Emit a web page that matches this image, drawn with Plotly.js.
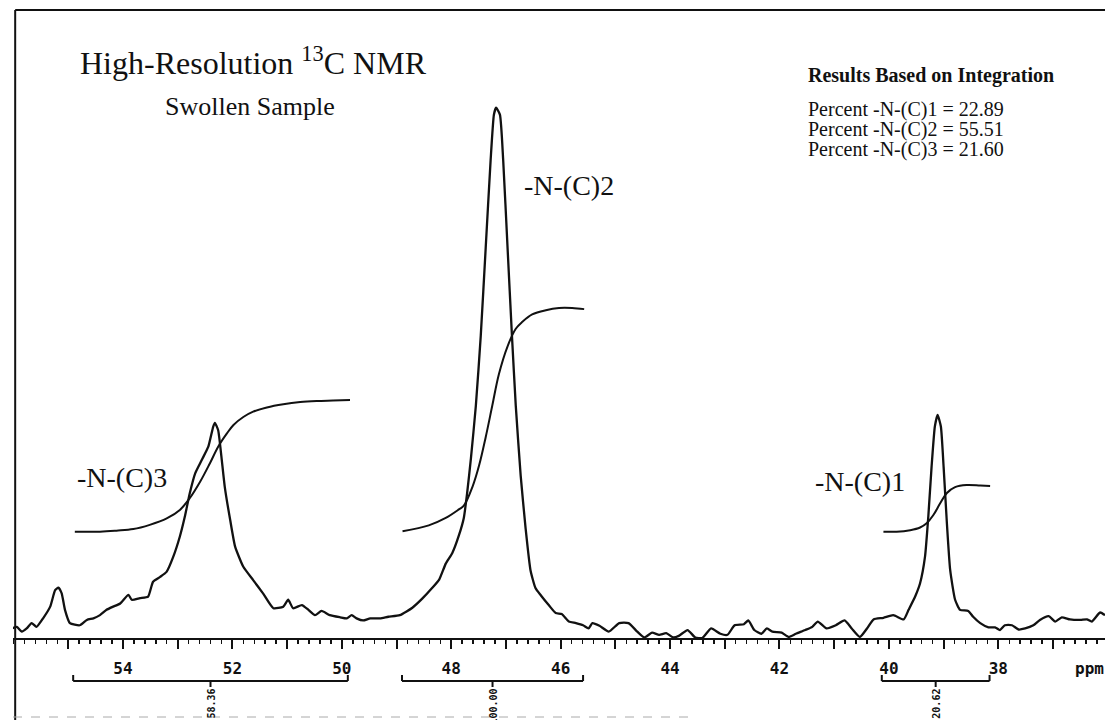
<!DOCTYPE html>
<html><head><meta charset="utf-8">
<script src="https://cdn.plot.ly/plotly-3.0.1.min.js"></script>
<style>html,body{margin:0;padding:0;background:#fff;}#chart{width:1105px;height:720px;}</style>
</head><body><div id="chart"></div>
<script>
// Spectrum: chemical shift (ppm) and intensity (a.u., main peak = 100)
const ppm = [56.03,55.94,55.85,55.76,55.67,55.58,55.46,55.33,55.24,55.18,55.12,55.06,54.97,54.79,54.66,54.54,54.42,54.30,54.18,54.05,53.90,53.84,53.69,53.54,53.45,53.32,53.20,53.08,52.96,52.87,52.78,52.68,52.56,52.44,52.35,52.32,52.26,52.20,52.14,52.04,51.95,51.80,51.62,51.44,51.25,51.07,50.98,50.89,50.73,50.61,50.49,50.37,50.22,50.03,49.91,49.82,49.73,49.61,49.48,49.30,49.15,48.94,
48.71,48.53,48.35,48.22,48.10,47.98,47.86,47.77,47.71,47.64,47.55,47.46,47.37,47.28,47.22,47.18,47.11,47.05,46.97,46.89,46.82,46.73,46.64,46.55,46.46,46.36,46.21,46.09,
45.98,45.85,45.72,45.59,45.49,45.42,45.29,45.12,44.93,44.76,44.60,44.47,44.33,44.20,44.07,43.94,43.84,43.68,43.54,43.41,43.25,43.08,42.95,42.82,42.65,42.57,42.46,42.33,42.23,42.13,41.96,41.83,41.70,41.53,41.40,41.30,41.14,40.97,40.81,
40.68,40.53,40.40,40.28,40.10,39.92,39.73,39.64,39.52,39.43,39.34,39.28,39.22,39.16,39.11,39.05,39.00,38.94,38.88,38.79,38.70,38.55,38.46,38.33,38.18,38.06,37.97,37.88,37.75,37.63,37.51,37.36,37.24,37.08,36.96,36.84,36.69,36.50,36.38,36.29,36.14,36.05];
const intensity = [1.8,2.1,1.2,1.8,2.8,2.1,3.7,5.9,9.0,9.5,8.4,5.3,2.8,2.4,3.4,3.7,4.3,5.3,5.9,6.5,8.1,7.2,7.5,7.8,10.6,11.5,12.5,15.3,19.1,22.8,27.2,31.0,33.5,36.0,39.8,40.5,39.1,34.1,28.5,22.2,17.2,13.4,10.9,8.4,5.6,5.9,7.2,5.6,6.2,5.3,4.3,5.1,4.3,3.9,3.7,4.3,3.7,3.3,3.7,3.7,4.0,4.3,
5.7,7.4,9.4,11.0,14.0,16.0,19.3,22.6,27.2,33.8,43.7,56.9,73.4,89.9,98.5,99.8,98.5,89.9,73.4,56.9,43.7,30.5,20.6,12.7,9.4,8.0,6.1,4.7,
4.5,3.1,2.8,2.4,1.8,2.8,2.3,1.2,2.8,2.8,1.2,0.1,1.0,0.6,0.9,0.1,0.4,1.5,0.1,0.0,1.8,0.8,0.6,2.4,2.6,3.3,1.5,0.8,1.8,1.2,1.0,0.2,0.8,1.5,2.1,3.1,1.8,2.4,3.3,
1.8,0.2,1.8,3.5,3.8,4.3,3.5,5.3,7.8,10.3,15.3,22.8,32.2,39.8,42.0,39.8,32.2,21.6,12.8,7.2,5.3,5.1,4.0,2.8,2.0,2.0,1.5,2.4,2.4,1.6,1.8,2.4,3.4,4.1,3.1,3.9,3.5,3.4,3.5,3.1,4.8,4.3];

// Integral curves (same vertical scale, drawn offset above baseline)
const int3Ppm = [54.88,54.42,54.12,53.81,53.51,53.20,52.96,52.78,52.59,52.41,52.26,52.10,51.98,51.80,51.62,51.37,51.07,50.76,50.46,50.16,49.85];
const int3Val = [20.0,20.0,20.2,20.5,21.3,22.5,24.1,26.3,29.4,32.9,36.0,38.5,40.1,41.6,42.6,43.4,44.0,44.4,44.6,44.7,44.8];
const int2Ppm = [48.89,48.41,48.10,47.86,47.77,47.61,47.49,47.37,47.25,47.13,46.97,46.82,46.70,46.52,46.27,46.03,45.79,45.57];
const int2Val = [20.1,21.2,22.6,24.2,24.9,28.5,32.5,37.8,43.7,49.6,54.9,58.2,59.5,60.9,61.7,62.1,62.1,61.9];
const int1Ppm = [40.10,39.86,39.61,39.43,39.31,39.19,39.06,38.94,38.79,38.58,38.33,38.15];
const int1Val = [20.0,20.0,20.3,20.8,21.6,23.1,25.4,27.3,28.4,28.8,28.7,28.6];

// Axis tick labels
const tickPpm = [54,52,50,48,46,44,42,40,38];
const tickLabels = ['54','52','50','48','46','44','42','40','38'];

// Integration brackets
const bracketStart = [54.91,48.90,40.13];
const bracketEnd = [49.89,45.59,38.16];
const integralValues = ['58.36','100.00','20.62'];

// Peak labels
const peakLabels = ['-N-(C)3','-N-(C)2','-N-(C)1'];
const peakLabelPpm = [54.88,46.71,41.39];
const peakLabelVal = [30.3,85.1,29.5];

// Results
const percentGroups = ['-N-(C)1','-N-(C)2','-N-(C)3'];
const percentValues = [22.89,55.51,21.60];

const serif = 'Liberation Serif, Times New Roman, serif';
const mono = 'DejaVu Sans Mono, monospace';

const lineStyle = {color:'#111', width:2.3, shape:'spline', smoothing:0.5};
const traces = [
  {x:ppm, y:intensity, type:'scatter', mode:'lines', line:lineStyle, hoverinfo:'skip'},
  {x:int3Ppm, y:int3Val, type:'scatter', mode:'lines', line:{color:'#111', width:2, shape:'spline'}, hoverinfo:'skip'},
  {x:int2Ppm, y:int2Val, type:'scatter', mode:'lines', line:{color:'#111', width:2, shape:'spline'}, hoverinfo:'skip'},
  {x:int1Ppm, y:int1Val, type:'scatter', mode:'lines', line:{color:'#111', width:2, shape:'spline'}, hoverinfo:'skip'}
];

// major ticks every 1 ppm, labels every 2 ppm
const tickvals = [], ticktext = [];
for (let v = 37; v <= 55; v++) {
  tickvals.push(v);
  const i = tickPpm.indexOf(v);
  ticktext.push(i >= 0 ? tickLabels[i] : ' ');
}

// paper coordinate helpers (plot area: x 13..1105, y 10..638)
const W = 1105, H = 720, L = 13, T = 10, B = 82;
const px = x => (x - L) / (W - L);
const py = y => (H - B - y) / (H - B - T);

const shapes = [];
const annotations = [];
const yBar = py(681), yUp = py(675), yDown = py(687);
bracketStart.forEach((s, i) => {
  const e = bracketEnd[i], c = (s + e) / 2;
  shapes.push({type:'line', xref:'x', yref:'paper', x0:s, x1:e, y0:yBar, y1:yBar, line:{color:'#111', width:2}});
  shapes.push({type:'line', xref:'x', yref:'paper', x0:s, x1:s, y0:yBar, y1:yUp, line:{color:'#111', width:2}});
  shapes.push({type:'line', xref:'x', yref:'paper', x0:e, x1:e, y0:yBar, y1:yUp, line:{color:'#111', width:2}});
  shapes.push({type:'line', xref:'x', yref:'paper', x0:c, x1:c, y0:yBar, y1:yDown, line:{color:'#111', width:2}});
  annotations.push({xref:'x', yref:'paper', x:c, y:py(687), xanchor:'center', yanchor:'top', textangle:-90,
    text:integralValues[i], showarrow:false, font:{family:mono, size:10, color:'#111', weight:'bold'}});
});
// frame lines
shapes.push({type:'line', xref:'paper', yref:'paper', x0:0.002, x1:0.002, y0:py(720), y1:py(10), line:{color:'#111', width:2}});
shapes.push({type:'line', xref:'paper', yref:'paper', x0:0.002, x1:1, y0:py(10), y1:py(10), line:{color:'#111', width:2}});
shapes.push({type:'line', xref:'paper', yref:'paper', x0:0, x1:0.62, y0:py(717), y1:py(717), line:{color:'#aaa', width:1, dash:'dash'}});

peakLabels.forEach((t, i) => {
  annotations.push({xref:'x', yref:'y', x:peakLabelPpm[i], y:peakLabelVal[i], xanchor:'left', yanchor:'middle',
    text:t, showarrow:false, font:{family:serif, size:28, color:'#111'}});
});
annotations.push({xref:'paper', yref:'paper', x:px(78), y:py(61), xanchor:'left', yanchor:'middle',
  text:'High-Resolution <sup>13</sup>C NMR', showarrow:false, font:{family:serif, size:32, color:'#111'}});
annotations.push({xref:'paper', yref:'paper', x:px(163), y:py(106.5), xanchor:'left', yanchor:'middle',
  text:'Swollen Sample', showarrow:false, font:{family:serif, size:26, color:'#111'}});
annotations.push({xref:'paper', yref:'paper', x:px(806), y:py(75.5), xanchor:'left', yanchor:'middle',
  text:'Results Based on Integration', showarrow:false, font:{family:serif, size:20, color:'#111', weight:'bold'}});
const percentY = [110, 130, 150];
percentGroups.forEach((g, i) => {
  annotations.push({xref:'paper', yref:'paper', x:px(806), y:py(percentY[i]), xanchor:'left', yanchor:'middle',
    text:'Percent ' + g + ' = ' + percentValues[i].toFixed(2), showarrow:false, font:{family:serif, size:20, color:'#111'}});
});
annotations.push({xref:'paper', yref:'paper', x:px(1089), y:py(668), xanchor:'center', yanchor:'middle',
  text:'ppm', showarrow:false, font:{family:mono, size:16, color:'#111', weight:'bold'}});

const layout = {
  width:W, height:H, margin:{l:L, r:0, t:T, b:B, pad:0},
  paper_bgcolor:'#fff', plot_bgcolor:'#fff', showlegend:false,
  xaxis:{range:[56.01, 36.05], tickmode:'array', tickvals:tickvals, ticktext:ticktext,
    ticks:'outside', ticklen:9, tickwidth:2, tickcolor:'#111', showline:true, linewidth:2, linecolor:'#111',
    showgrid:false, zeroline:false, ticklabelstandoff:6,
    tickfont:{family:mono, size:16, color:'#111', weight:'bold'},
    minor:{tickmode:'linear', tick0:0, dtick:0.2, ticks:'outside', ticklen:4, tickwidth:1.5, tickcolor:'#111', showgrid:false}},
  yaxis:{range:[0, 118.2], visible:false, showgrid:false, zeroline:false},
  shapes:shapes, annotations:annotations
};
Plotly.newPlot('chart', traces, layout, {staticPlot:true});
</script></body></html>
